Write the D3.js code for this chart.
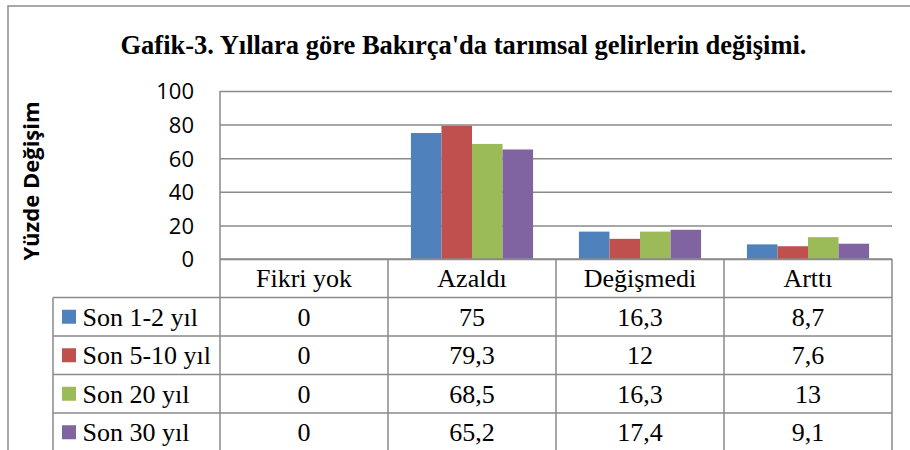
<!DOCTYPE html>
<html><head><meta charset="utf-8">
<script src="https://cdn.jsdelivr.net/npm/d3@7"></script>
<style>
html,body{margin:0;padding:0;background:#fff;}
svg{display:block;}
</style></head>
<body>
<script>
const title = "Gafik-3. Yıllara göre Bakırça'da tarımsal gelirlerin değişimi.";
const yTitle = "Yüzde Değişim";
const categories = ["Fikri yok", "Azaldı", "Değişmedi", "Arttı"];
const seriesNames = ["Son 1-2 yıl", "Son 5-10 yıl", "Son 20 yıl", "Son 30 yıl"];
const son1_2 = [0, 75, 16.3, 8.7];
const son5_10 = [0, 79.3, 12, 7.6];
const son20 = [0, 68.5, 16.3, 13];
const son30 = [0, 65.2, 17.4, 9.1];
const seriesValues = [son1_2, son5_10, son20, son30];
const colors = ["#4F81BD", "#C0504D", "#9BBB59", "#8064A2"];
const yTicks = [0, 20, 40, 60, 80, 100];

const W = 910, H = 450;
const svg = d3.select("body").append("svg").attr("width", W).attr("height", H);
const lineCol = "#8a8a8a";

// outer frame
svg.append("rect").attr("x", 8).attr("y", 6).attr("width", W + 20).attr("height", H + 20)
  .attr("fill", "none").attr("stroke", lineCol).attr("stroke-width", 1.5);

const plotL = 220, plotR = 892, plotT = 91, plotB = 259;
const x = d3.scaleBand().domain(categories).range([plotL, plotR]).padding(0);
const xs = d3.scaleBand().domain(seriesNames).range([0, x.bandwidth()]).paddingInner(0).paddingOuter(0.75);
const y = d3.scaleLinear().domain([0, 100]).range([plotB, plotT]);

// title
svg.append("text").attr("x", 463.5).attr("y", 54).attr("text-anchor", "middle")
  .attr("font-family", "'Liberation Serif','Times New Roman',serif").attr("font-weight", "bold")
  .attr("font-size", 26.5).attr("fill", "#000").text(title);

// y axis with gridlines
const yAxis = d3.axisLeft(y).tickValues(yTicks).tickSize(-(plotR - plotL)).tickPadding(26).tickFormat(d3.format("d"));
const gy = svg.append("g").attr("transform", `translate(${plotL},0)`).call(yAxis);
gy.select(".domain").remove();
gy.selectAll(".tick line").attr("stroke", lineCol).attr("stroke-width", 1.5);
gy.selectAll(".tick text").attr("font-family", "'Open Sans',sans-serif").attr("font-size", 22)
  .attr("fill", "#000").attr("dy", "0.36em");

// y title
svg.append("text").attr("transform", "translate(30,181) rotate(-90)")
  .attr("text-anchor", "middle").attr("dominant-baseline", "central")
  .attr("font-family", "'Open Sans',sans-serif").attr("font-weight", "bold").attr("font-size", 22)
  .attr("fill", "#000").text(yTitle);

// bars
seriesNames.forEach((s, si) => {
  svg.append("g").selectAll("rect").data(seriesValues[si]).join("rect")
    .attr("x", (d, i) => x(categories[i]) + xs(s))
    .attr("width", xs.bandwidth())
    .attr("y", d => y(d))
    .attr("height", d => plotB - y(d))
    .attr("fill", colors[si]);
});

// data table
const rowH = 38.5;
const tableL = 53;
const rowTop = i => plotB + rowH * i;
const nRows = seriesNames.length + 1;
const tg = svg.append("g");
// horizontal lines
tg.append("line").attr("x1", plotL).attr("x2", plotR).attr("y1", plotB).attr("y2", plotB)
  .attr("stroke", lineCol).attr("stroke-width", 1.5);
for (let r = 1; r <= nRows; r++) {
  tg.append("line").attr("x1", tableL).attr("x2", plotR).attr("y1", rowTop(r)).attr("y2", rowTop(r))
    .attr("stroke", lineCol).attr("stroke-width", 1.5);
}
// vertical lines
tg.append("line").attr("x1", tableL).attr("x2", tableL).attr("y1", rowTop(1)).attr("y2", H + 10)
  .attr("stroke", lineCol).attr("stroke-width", 1.5);
tg.append("line").attr("x1", plotL).attr("x2", plotL).attr("y1", plotT).attr("y2", H + 10)
  .attr("stroke", lineCol).attr("stroke-width", 1.5);
categories.forEach(c => {
  const xe = x(c) + x.bandwidth();
  tg.append("line").attr("x1", xe).attr("x2", xe).attr("y1", plotB).attr("y2", H + 10)
    .attr("stroke", lineCol).attr("stroke-width", 1.5);
});

const serif = "'Liberation Serif','Times New Roman',serif";
// header
categories.forEach(c => {
  tg.append("text").attr("x", x(c) + x.bandwidth() / 2).attr("y", rowTop(0) + rowH / 2)
    .attr("dy", "0.35em").attr("text-anchor", "middle").attr("font-family", serif)
    .attr("font-size", 26).attr("fill", "#000").text(c);
});
const fmt = v => String(v).replace(".", ",");
seriesNames.forEach((s, si) => {
  const cy = rowTop(si + 1) + rowH / 2;
  tg.append("rect").attr("x", 62).attr("y", cy - 7).attr("width", 14).attr("height", 14).attr("fill", colors[si]);
  tg.append("text").attr("x", 82.5).attr("y", cy).attr("dy", "0.35em").attr("font-family", serif)
    .attr("font-size", 26).attr("fill", "#000").text(s);
  seriesValues[si].forEach((v, ci) => {
    tg.append("text").attr("x", x(categories[ci]) + x.bandwidth() / 2).attr("y", cy)
      .attr("dy", "0.35em").attr("text-anchor", "middle").attr("font-family", serif)
      .attr("font-size", 26).attr("fill", "#000").text(fmt(v));
  });
});
</script>
</body></html>
